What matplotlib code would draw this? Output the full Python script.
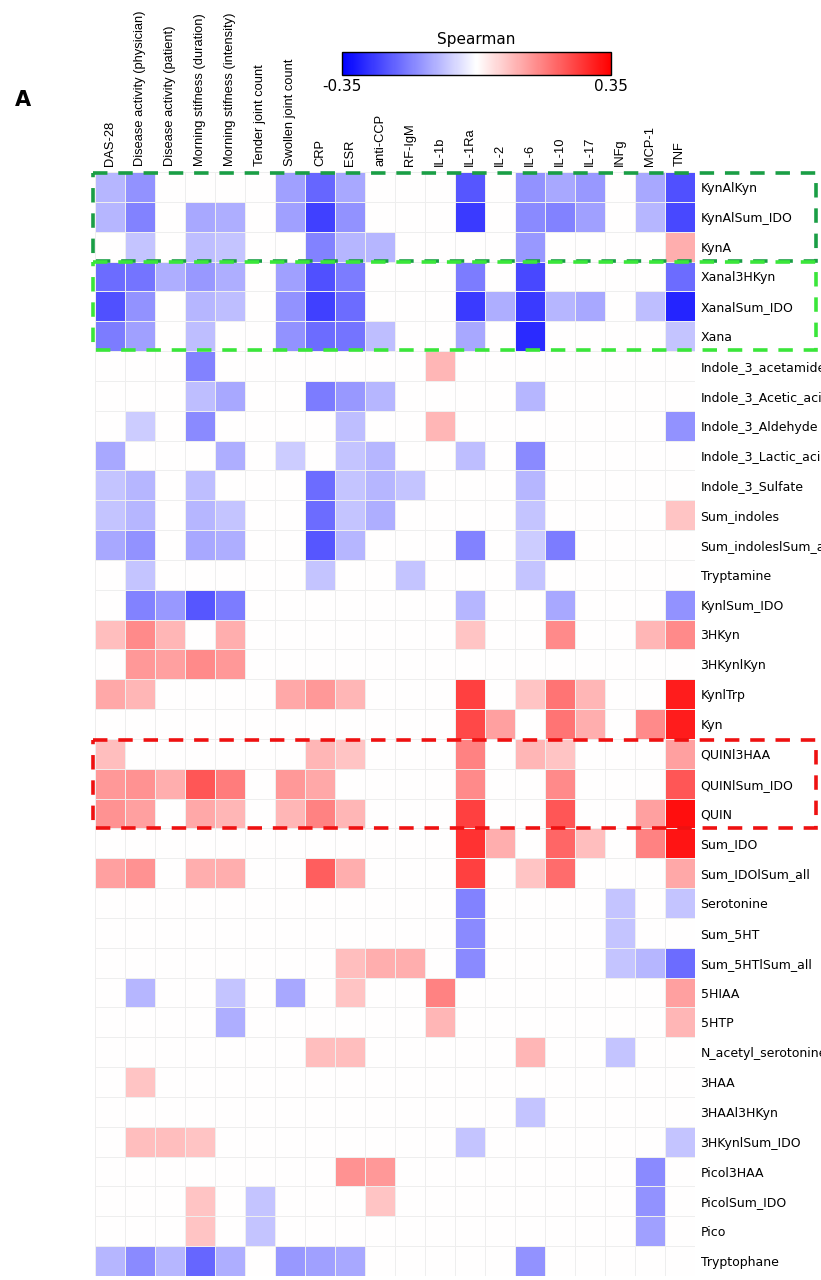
import numpy as np
import matplotlib
matplotlib.use("Agg")
import matplotlib.pyplot as plt
from matplotlib.patches import Rectangle

# column / row labels -------------------------------------------------------------------------------------------------
clinical = ['DAS-28', 'Disease activity (physician)', 'Disease activity (patient)',
            'Morning stifness (duration)', 'Morning stifness (intensity)', 'Tender joint count',
            'Swollen joint count', 'CRP', 'ESR', 'anti-CCP', 'RF-IgM', 'IL-1b', 'IL-1Ra', 'IL-2',
            'IL-6', 'IL-10', 'IL-17', 'INFg', 'MCP-1', 'TNF']

metabolites = ['KynAlKyn', 'KynAlSum_IDO', 'KynA', 'Xanal3HKyn', 'XanalSum_IDO', 'Xana',
               'Indole_3_acetamide', 'Indole_3_Acetic_acid', 'Indole_3_Aldehyde', 'Indole_3_Lactic_acid',
               'Indole_3_Sulfate', 'Sum_indoles', 'Sum_indoleslSum_all', 'Tryptamine', 'KynlSum_IDO',
               '3HKyn', '3HKynlKyn', 'KynlTrp', 'Kyn', 'QUINl3HAA', 'QUINlSum_IDO', 'QUIN', 'Sum_IDO',
               'Sum_IDOlSum_all', 'Serotonine', 'Sum_5HT', 'Sum_5HTlSum_all', '5HIAA', '5HTP',
               'N_acetyl_serotonine', '3HAA', '3HAAl3HKyn', '3HKynlSum_IDO', 'Picol3HAA', 'PicolSum_IDO',
               'Pico', 'Tryptophane']

# spearman rho per metabolite (non-significant = 0) --------------------------------------------------------------------
rho = {
    'KynAlKyn':            {0: -.10, 1: -.15, 6: -.13, 7: -.21, 8: -.12, 12: -.23, 14: -.15, 15: -.12, 16: -.14, 18: -.12, 19: -.24},
    'KynAlSum_IDO':        {0: -.10, 1: -.17, 3: -.12, 4: -.11, 6: -.13, 7: -.26, 8: -.15, 12: -.27, 14: -.16, 15: -.17, 16: -.13, 18: -.10, 19: -.25},
    'KynA':                {1: -.08, 3: -.09, 4: -.08, 7: -.17, 8: -.10, 9: -.10, 14: -.14, 19: .11},
    'Xanal3HKyn':          {0: -.20, 1: -.19, 2: -.11, 3: -.14, 4: -.11, 6: -.13, 7: -.24, 8: -.18, 12: -.18, 14: -.25, 19: -.20},
    'XanalSum_IDO':        {0: -.24, 1: -.15, 3: -.10, 4: -.09, 6: -.15, 7: -.26, 8: -.20, 12: -.27, 13: -.11, 14: -.27, 15: -.10, 16: -.12, 18: -.09, 19: -.30},
    'Xana':                {0: -.18, 1: -.13, 3: -.09, 6: -.15, 7: -.20, 8: -.19, 9: -.09, 12: -.12, 14: -.29, 19: -.08},
    'Indole_3_acetamide':  {3: -.17, 11: .10},
    'Indole_3_Acetic_acid': {3: -.09, 4: -.12, 7: -.18, 8: -.14, 9: -.10, 14: -.10},
    'Indole_3_Aldehyde':   {1: -.07, 3: -.16, 8: -.09, 11: .10, 19: -.15},
    'Indole_3_Lactic_acid': {0: -.12, 4: -.11, 6: -.07, 8: -.08, 9: -.10, 12: -.09, 14: -.16},
    'Indole_3_Sulfate':    {0: -.08, 1: -.10, 3: -.09, 7: -.20, 8: -.08, 9: -.10, 10: -.08, 14: -.10},
    'Sum_indoles':         {0: -.08, 1: -.10, 3: -.10, 4: -.08, 7: -.20, 8: -.08, 9: -.11, 14: -.08, 19: .08},
    'Sum_indoleslSum_all': {0: -.12, 1: -.15, 3: -.12, 4: -.11, 7: -.23, 8: -.10, 12: -.17, 14: -.07, 15: -.18},
    'Tryptamine':          {1: -.08, 7: -.08, 10: -.08, 14: -.08},
    'KynlSum_IDO':         {1: -.17, 2: -.14, 3: -.23, 4: -.18, 12: -.10, 15: -.12, 19: -.15},
    '3HKyn':               {0: .09, 1: .16, 2: .10, 4: .11, 12: .08, 15: .16, 18: .10, 19: .16},
    '3HKynlKyn':           {1: .14, 2: .13, 3: .16, 4: .14},
    'KynlTrp':             {0: .12, 1: .10, 6: .12, 7: .14, 8: .10, 12: .26, 14: .08, 15: .19, 16: .10, 19: .31},
    'Kyn':                 {12: .25, 13: .13, 15: .19, 16: .11, 18: .16, 19: .31},
    'QUINl3HAA':           {0: .09, 7: .10, 8: .08, 12: .17, 14: .10, 15: .08, 19: .13},
    'QUINlSum_IDO':        {0: .14, 1: .15, 2: .11, 3: .23, 4: .18, 6: .14, 7: .12, 12: .16, 15: .16, 19: .23},
    'QUIN':                {0: .15, 1: .13, 3: .12, 4: .10, 6: .10, 7: .17, 8: .10, 12: .26, 15: .23, 18: .13, 19: .33},
    'Sum_IDO':             {12: .28, 13: .11, 15: .21, 16: .09, 18: .17, 19: .32},
    'Sum_IDOlSum_all':     {0: .13, 1: .15, 3: .11, 4: .11, 7: .22, 8: .11, 12: .26, 14: .08, 15: .20, 19: .12},
    'Serotonine':          {12: -.17, 17: -.08, 19: -.08},
    'Sum_5HT':             {12: -.16, 17: -.08},
    'Sum_5HTlSum_all':     {8: .09, 9: .11, 10: .11, 12: -.16, 17: -.08, 18: -.10, 19: -.20},
    '5HIAA':               {1: -.10, 4: -.08, 6: -.12, 8: .08, 11: .17, 19: .13},
    '5HTP':                {4: -.11, 11: .10, 19: .10},
    'N_acetyl_serotonine': {7: .09, 8: .09, 14: .10, 17: -.08},
    '3HAA':                {1: .08},
    '3HAAl3HKyn':          {14: -.08},
    '3HKynlSum_IDO':       {1: .09, 2: .09, 3: .08, 12: -.08, 19: -.08},
    'Picol3HAA':           {8: .15, 9: .14, 18: -.16},
    'PicolSum_IDO':        {3: .08, 5: -.08, 9: .08, 18: -.15},
    'Pico':                {3: .08, 5: -.08, 18: -.13},
    'Tryptophane':         {0: -.10, 1: -.16, 2: -.10, 3: -.21, 4: -.11, 6: -.14, 7: -.13, 8: -.12, 14: -.15},
}

mat = np.zeros((len(metabolites), len(clinical)))
for i, m in enumerate(metabolites):
    for j, v in rho[m].items():
        mat[i, j] = v

# figure -------------------------------------------------------------------------------------------------------------
fig = plt.figure(figsize=(8.21, 12.8), dpi=100)
ax = fig.add_axes([95 / 821, 4 / 1280, 600 / 821, 1104 / 1280])

mesh = ax.pcolormesh(mat, cmap='bwr', vmin=-0.35, vmax=0.35, edgecolors='#eeeeee', linewidth=0.5)
ax.set_xlim(0, len(clinical))
ax.set_ylim(len(metabolites), 0)
for s in ax.spines.values():
    s.set_visible(False)

ax.xaxis.tick_top()
ax.set_xticks(np.arange(len(clinical)) + 0.5)
ax.set_xticklabels(clinical, rotation=90, fontsize=9.3, family='Liberation Sans')
ax.yaxis.tick_right()
ax.set_yticks(np.arange(len(metabolites)) + 0.5)
ax.set_yticklabels(metabolites, fontsize=9, family='Liberation Sans Narrow')
ax.tick_params(length=0, pad=4)

# dashed boxes around the kynurenic / xanthurenic / quinolinic blocks ----------------------------------------------------
boxes = [(0, 3, '#1a9e45'), (3, 6, '#3ae63a'), (19, 22, '#ee1111')]
for r0, r1, col in boxes:
    ax.add_patch(Rectangle((-0.07, r0 + 0.03), 24.1, r1 - r0 - 0.06, fill=False, edgecolor=col,
                           linestyle=(0, (4, 3)), linewidth=2.6, clip_on=False, zorder=5))

# colorbar --------------------------------------------------------------------------------------------------------------
cax = fig.add_axes([342 / 821, 1 - 75 / 1280, 269 / 821, 23 / 1280])
cb = fig.colorbar(mesh, cax=cax, orientation='horizontal', ticks=[-0.35, 0.35])
cb.outline.set_linewidth(1)
cax.set_xticklabels(['-0.35', '0.35'], family='Liberation Sans Narrow', fontsize=11)
cax.tick_params(length=0, pad=3)
cax.set_title('Spearman', family='Liberation Sans Narrow', fontsize=11, pad=6)

fig.text(15 / 821, 1 - 100 / 1280, 'A', fontsize=15, fontweight='bold', va='center',
         family='Liberation Sans Narrow')

fig.savefig('out.png', dpi=100)
